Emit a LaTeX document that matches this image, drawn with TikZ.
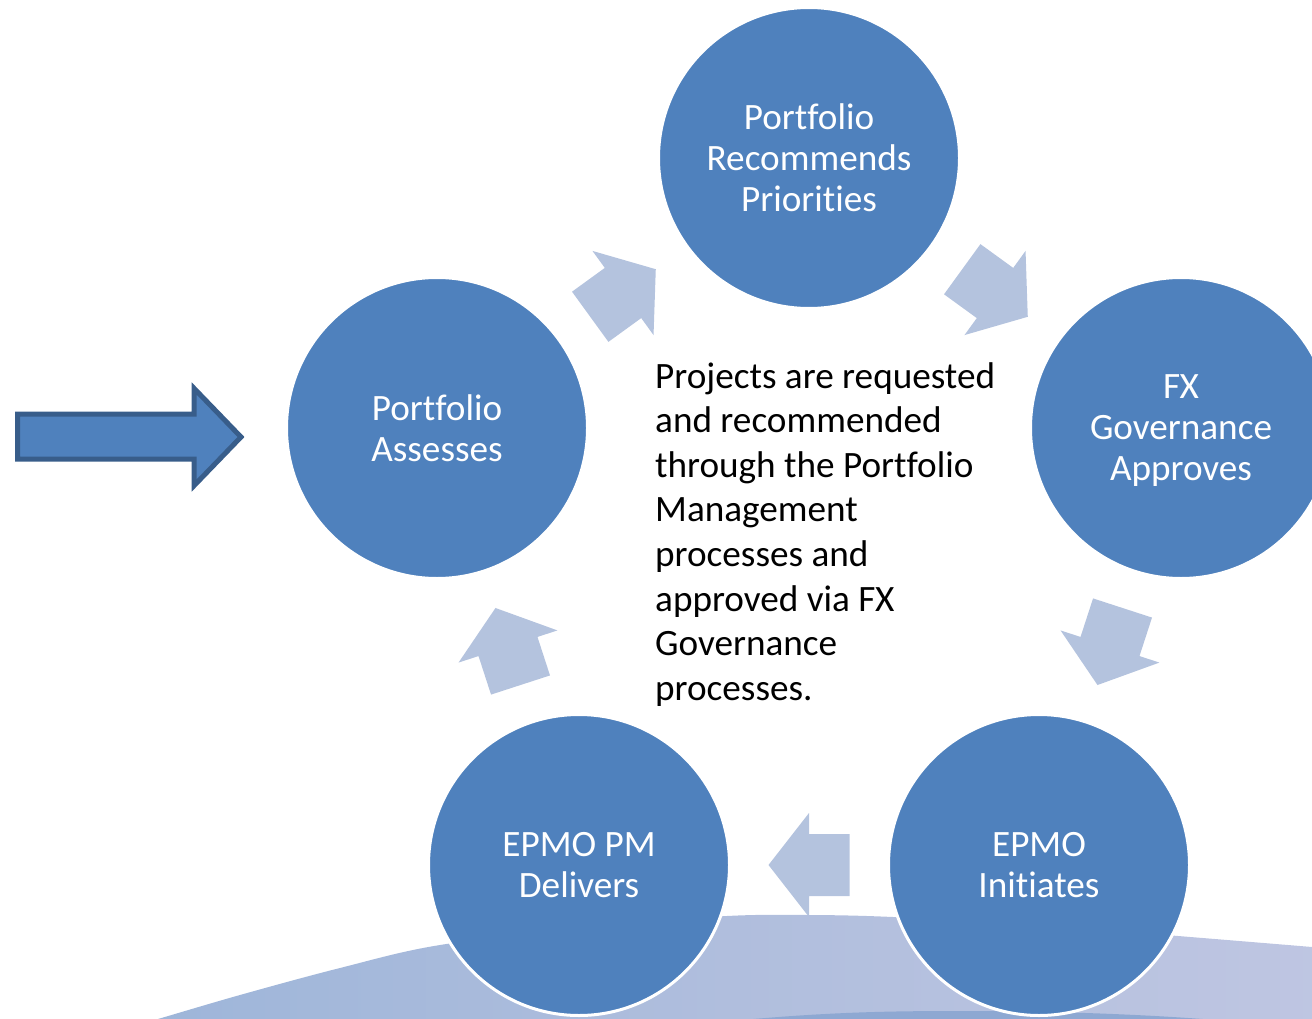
\documentclass[tikz,border=0pt]{standalone}
\usepackage{fontspec}
\setmainfont{Carlito}[Ligatures=NoCommon]
\usetikzlibrary{calc}

\definecolor{stageblue}{HTML}{4F81BD}
\definecolor{stageedge}{HTML}{385D8A}
\definecolor{flowtint}{HTML}{B4C3DE}
\definecolor{baseleft}{HTML}{9DB5D9}
\definecolor{basemid}{HTML}{B0BEDD}
\definecolor{baseright}{HTML}{BFC6E2}
\definecolor{basedeep}{HTML}{8EA8D2}

\pgfdeclarelayer{background}
\pgfsetlayers{background,main}

\tikzset{
  stage/.style={circle, fill=stageblue, draw=white, line width=3pt,
    minimum size=301pt, inner sep=0pt, text=white, align=center,
    font=\fontsize{37.2}{41}\selectfont},
  summary/.style={inner sep=0pt, align=left, text=black,
    font=\fontsize{37.2}{44.6}\selectfont},
  entryarrow/.style={fill=stageblue, draw=stageedge, line width=5pt, line join=miter},
  flowarrow/.pic={
    \fill[flowtint] (-40.5,-31) -- (0,-31) -- (0,-52) -- (40.5,0)
      -- (0,52) -- (0,31) -- (-40.5,31) -- cycle;
  },
}

\begin{document}
\begin{tikzpicture}[x=1pt,y=-1pt]
  \useasboundingbox (0,0) rectangle (1312,1019);
  \clip (0,0) rectangle (1312,1019);

  % process stages
  \node[stage] (recommend) at (809,158)  {Portfolio\\Recommends\\Priorities};
  \node[stage] (assess)    at (437,428)  {Portfolio\\Assesses};
  \node[stage] (approve)   at (1181,428) {FX\\Governance\\\smash{Approves}};
  \node[stage] (initiate)  at (1039,865) {EPMO\\Initiates};
  \node[stage] (deliver)   at (579,865)  {EPMO PM\\Delivers};

  % description in the middle of the cycle
  \node[summary, anchor=north west] (note) at (655,362)
    {Projects are requested\\and recommended\\through the Portfolio\\Management\\processes and\\approved via FX\\Governance\\processes.};

  % entry arrow into the cycle
  \coordinate (entry) at (241,437);
  \draw[entryarrow] (17.5,414.2) -- (194.2,414.2) -- (194.2,388.5) -- (entry)
    -- (194.2,485.5) -- (194.2,459.2) -- (17.5,459.2) -- cycle;

  \begin{pgfonlayer}{background}
    % cycle arrows between consecutive stages
    \foreach \a/\b in {assess/recommend, recommend/approve, approve/initiate,
                       initiate/deliver, deliver/assess}
      \path let \p1=($(\b)-(\a)$), \n1={atan2(\y1,\x1)} in
        pic[rotate=\n1] at ($(\a)!0.5!(\b)$) {flowarrow};

    % curved base band
    \path[left color=baseleft, right color=baseright, middle color=basemid]
      plot[smooth, tension=0.55] coordinates {(120,1030) (158,1019) (240,995)
        (340,968) (440,945) (600,926) (727,916) (810,915) (893,917)
        (1040,925) (1178,936) (1312,947) (1340,949.5)}
      -- (1340,1040) -- (120,1040) -- cycle;
    \fill[basedeep] (720,1022) .. controls (820,1012.5) and (880,1011) .. (960,1011)
      .. controls (1050,1011) and (1150,1014) .. (1240,1022) -- cycle;
  \end{pgfonlayer}
\end{tikzpicture}
\end{document}
